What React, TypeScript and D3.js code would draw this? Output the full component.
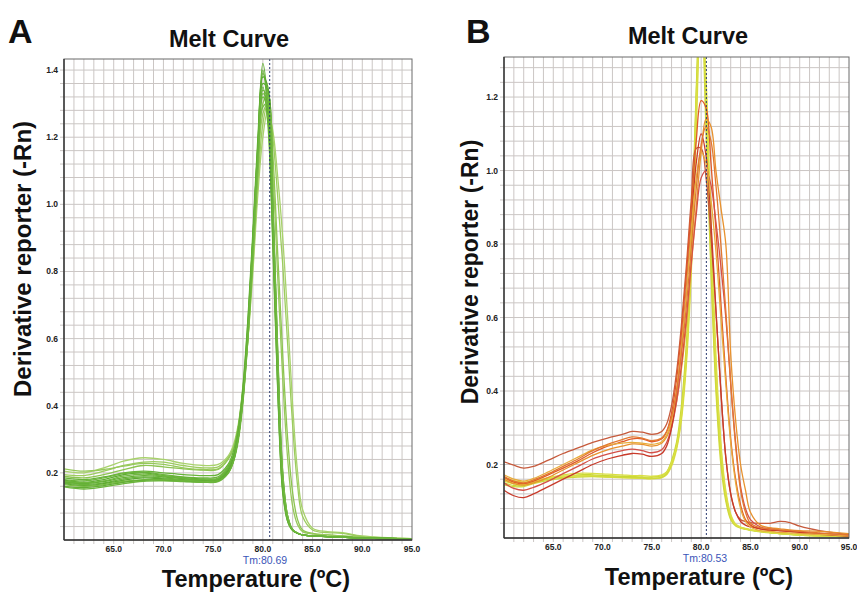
import React from "react";
import * as d3 from "d3";

// ---- panel A : green melt curves ----
const tempsA = [60, 62, 64, 66, 68, 70, 72, 74, 75.5, 76.5, 77, 77.5, 78, 78.5, 79, 79.5, 80, 80.5, 81, 81.5, 82, 82.5, 83, 83.5, 84, 85, 86.5, 88, 90, 95];

const curvesA = [
  [0.205, 0.2, 0.215, 0.235, 0.245, 0.24, 0.228, 0.222, 0.225, 0.25, 0.28, 0.34, 0.45, 0.6, 0.8, 1.03, 1.2, 1.28, 1.22, 1.08, 0.9, 0.66, 0.4, 0.2, 0.09, 0.035, 0.025, 0.022, 0.012, 0.004],
  [0.195, 0.192, 0.205, 0.222, 0.232, 0.232, 0.222, 0.215, 0.218, 0.245, 0.27, 0.33, 0.44, 0.6, 0.82, 1.06, 1.24, 1.3, 1.2, 1.02, 0.82, 0.58, 0.34, 0.16, 0.07, 0.03, 0.022, 0.02, 0.01, 0.004],
  [0.19, 0.185, 0.195, 0.21, 0.222, 0.218, 0.212, 0.208, 0.21, 0.24, 0.27, 0.33, 0.45, 0.63, 0.87, 1.12, 1.3, 1.33, 1.15, 0.85, 0.55, 0.3, 0.14, 0.06, 0.03, 0.02, 0.015, 0.012, 0.008, 0.003],
  [0.212, 0.205, 0.21, 0.22, 0.228, 0.225, 0.215, 0.21, 0.212, 0.24, 0.27, 0.33, 0.44, 0.62, 0.86, 1.1, 1.27, 1.3, 1.1, 0.78, 0.48, 0.24, 0.1, 0.045, 0.025, 0.018, 0.015, 0.012, 0.008, 0.003],
  [0.185, 0.18, 0.188, 0.2, 0.205, 0.2, 0.195, 0.192, 0.195, 0.225, 0.26, 0.33, 0.46, 0.66, 0.92, 1.2, 1.42, 1.3, 0.92, 0.46, 0.15, 0.06, 0.03, 0.02, 0.015, 0.012, 0.01, 0.008, 0.006, 0.003],
  [0.18, 0.176, 0.185, 0.198, 0.202, 0.195, 0.188, 0.185, 0.188, 0.22, 0.25, 0.32, 0.45, 0.65, 0.9, 1.18, 1.39, 1.32, 0.96, 0.5, 0.17, 0.065, 0.03, 0.02, 0.015, 0.012, 0.01, 0.008, 0.006, 0.003],
  [0.178, 0.172, 0.18, 0.195, 0.2, 0.192, 0.186, 0.182, 0.184, 0.215, 0.245, 0.31, 0.43, 0.62, 0.87, 1.15, 1.36, 1.34, 1.0, 0.54, 0.19, 0.07, 0.03, 0.02, 0.015, 0.012, 0.01, 0.008, 0.006, 0.003],
  [0.175, 0.17, 0.176, 0.19, 0.196, 0.19, 0.184, 0.18, 0.182, 0.212, 0.24, 0.3, 0.42, 0.6, 0.85, 1.12, 1.33, 1.3, 0.98, 0.52, 0.18, 0.065, 0.03, 0.02, 0.015, 0.012, 0.01, 0.008, 0.006, 0.003],
  [0.172, 0.168, 0.174, 0.186, 0.192, 0.188, 0.182, 0.178, 0.18, 0.21, 0.24, 0.31, 0.44, 0.64, 0.9, 1.17, 1.35, 1.24, 0.88, 0.44, 0.14, 0.055, 0.028, 0.02, 0.015, 0.012, 0.01, 0.008, 0.006, 0.003],
  [0.17, 0.165, 0.17, 0.182, 0.188, 0.185, 0.18, 0.176, 0.178, 0.205, 0.235, 0.3, 0.42, 0.61, 0.86, 1.13, 1.32, 1.28, 0.94, 0.49, 0.17, 0.06, 0.03, 0.02, 0.015, 0.012, 0.01, 0.008, 0.006, 0.003],
  [0.168, 0.162, 0.168, 0.178, 0.185, 0.182, 0.178, 0.175, 0.177, 0.205, 0.235, 0.3, 0.43, 0.63, 0.89, 1.16, 1.38, 1.35, 1.02, 0.56, 0.2, 0.07, 0.03, 0.02, 0.015, 0.012, 0.01, 0.008, 0.006, 0.003],
  [0.165, 0.16, 0.165, 0.175, 0.18, 0.18, 0.177, 0.174, 0.176, 0.2, 0.23, 0.29, 0.41, 0.6, 0.84, 1.1, 1.29, 1.3, 1.0, 0.55, 0.2, 0.07, 0.03, 0.02, 0.015, 0.012, 0.01, 0.008, 0.006, 0.003],
  [0.16, 0.156, 0.162, 0.172, 0.178, 0.178, 0.175, 0.172, 0.175, 0.2, 0.23, 0.3, 0.43, 0.63, 0.9, 1.18, 1.4, 1.27, 0.9, 0.45, 0.15, 0.055, 0.028, 0.02, 0.015, 0.012, 0.01, 0.008, 0.006, 0.003],
  [0.158, 0.152, 0.158, 0.168, 0.175, 0.176, 0.174, 0.172, 0.174, 0.198, 0.23, 0.3, 0.42, 0.62, 0.88, 1.15, 1.34, 1.31, 0.97, 0.5, 0.17, 0.06, 0.03, 0.02, 0.015, 0.012, 0.01, 0.008, 0.006, 0.003],
];

const colorsA = ["#a8d26c", "#9ccc5e", "#8cc450", "#96c85a", "#66b238", "#6eb63c", "#5eac32", "#72b940", "#64b036", "#6ab43a", "#5aa830", "#78bc44", "#62ae34", "#6cb53c"];

// ---- panel B : yellow / red melt curves ----
const tempsB = [60, 61, 62, 63, 64.5, 66, 67.5, 69, 70.5, 72, 73, 74, 75, 76, 76.5, 77, 77.5, 78, 78.5, 79, 79.5, 80, 80.5, 81, 81.5, 82, 82.5, 83, 83.5, 84, 84.5, 85, 86, 87, 88, 89, 90, 92, 95];

const yellowCurvesB = [
  [0.155, 0.148, 0.146, 0.152, 0.162, 0.168, 0.17, 0.17, 0.168, 0.166, 0.165, 0.164, 0.163, 0.166, 0.175, 0.2, 0.25, 0.34, 0.5, 0.77, 1.2, 1.5, 1.15, 0.75, 0.42, 0.22, 0.11, 0.055, 0.035, 0.028, 0.025, 0.022, 0.018, 0.015, 0.012, 0.01, 0.008, 0.006, 0.004],
  [0.15, 0.143, 0.142, 0.15, 0.16, 0.166, 0.172, 0.172, 0.17, 0.168, 0.167, 0.166, 0.166, 0.17, 0.18, 0.21, 0.26, 0.36, 0.53, 0.8, 1.22, 1.52, 1.2, 0.8, 0.46, 0.24, 0.12, 0.06, 0.036, 0.028, 0.025, 0.022, 0.018, 0.015, 0.012, 0.01, 0.008, 0.006, 0.004],
  [0.16, 0.152, 0.15, 0.155, 0.163, 0.168, 0.169, 0.168, 0.166, 0.164, 0.163, 0.162, 0.161, 0.164, 0.172, 0.195, 0.24, 0.32, 0.47, 0.72, 1.1, 1.45, 1.25, 0.85, 0.5, 0.26, 0.13, 0.065, 0.038, 0.03, 0.026, 0.023, 0.019, 0.016, 0.013, 0.011, 0.009, 0.007, 0.004],
  [0.145, 0.14, 0.14, 0.148, 0.157, 0.163, 0.166, 0.167, 0.166, 0.165, 0.164, 0.163, 0.162, 0.165, 0.174, 0.2, 0.245, 0.33, 0.49, 0.75, 1.15, 1.48, 1.1, 0.72, 0.4, 0.2, 0.1, 0.05, 0.033, 0.027, 0.024, 0.021, 0.017, 0.014, 0.012, 0.01, 0.008, 0.006, 0.004],
  [0.165, 0.156, 0.152, 0.156, 0.164, 0.172, 0.176, 0.176, 0.174, 0.172, 0.17, 0.17, 0.168, 0.172, 0.18, 0.205, 0.25, 0.34, 0.5, 0.78, 1.18, 1.47, 1.22, 0.82, 0.47, 0.25, 0.12, 0.06, 0.036, 0.028, 0.025, 0.022, 0.018, 0.015, 0.012, 0.01, 0.008, 0.006, 0.004],
];

const redCurvesB = [
  [0.207, 0.198, 0.19, 0.195, 0.212, 0.23, 0.245, 0.26, 0.272, 0.282, 0.29, 0.288, 0.282, 0.29, 0.31, 0.36, 0.45, 0.58, 0.74, 0.92, 1.06, 1.06, 0.98, 0.82, 0.62, 0.4, 0.22, 0.12, 0.07, 0.05, 0.045, 0.042, 0.04, 0.04, 0.045, 0.042, 0.032, 0.02, 0.01],
  [0.165, 0.152, 0.148, 0.155, 0.172, 0.19, 0.21, 0.232, 0.25, 0.262, 0.27, 0.27, 0.262, 0.27, 0.29, 0.34, 0.43, 0.56, 0.72, 0.9, 1.08, 1.19, 1.17, 1.02, 0.84, 0.64, 0.44, 0.27, 0.16, 0.09, 0.05, 0.035, 0.025, 0.022, 0.02, 0.018, 0.015, 0.012, 0.006],
  [0.16, 0.148, 0.144, 0.15, 0.165, 0.185, 0.205, 0.225, 0.24, 0.25, 0.256, 0.255, 0.25, 0.258, 0.275, 0.31, 0.37, 0.46, 0.58, 0.74, 0.9, 1.05, 1.14, 1.12, 1.0, 0.9, 0.8, 0.5, 0.32, 0.2, 0.13, 0.07, 0.035, 0.028, 0.025, 0.022, 0.02, 0.018, 0.012],
  [0.15, 0.135, 0.13, 0.138, 0.155, 0.175, 0.195, 0.215, 0.228, 0.238, 0.242, 0.238, 0.232, 0.24, 0.26, 0.3, 0.37, 0.47, 0.6, 0.75, 0.88, 0.98, 1.0, 0.96, 0.86, 0.74, 0.6, 0.42, 0.26, 0.14, 0.08, 0.05, 0.03, 0.025, 0.02, 0.018, 0.015, 0.012, 0.008],
  [0.13, 0.115, 0.11, 0.12, 0.14, 0.16, 0.18, 0.2, 0.215, 0.225, 0.23, 0.228, 0.222, 0.23, 0.25, 0.3, 0.39, 0.52, 0.68, 0.86, 1.02, 1.1, 1.04, 0.86, 0.62, 0.4, 0.22, 0.12, 0.07, 0.045, 0.035, 0.03, 0.025, 0.02, 0.02, 0.018, 0.015, 0.01, 0.005],
  [0.172, 0.16, 0.155, 0.162, 0.18, 0.2, 0.22, 0.24, 0.252, 0.258, 0.26, 0.258, 0.255, 0.262, 0.28, 0.32, 0.4, 0.52, 0.67, 0.84, 0.98, 1.05, 1.02, 0.92, 0.78, 0.6, 0.42, 0.26, 0.15, 0.08, 0.045, 0.03, 0.02, 0.018, 0.015, 0.014, 0.012, 0.01, 0.006],
  [0.168, 0.155, 0.15, 0.158, 0.175, 0.195, 0.215, 0.238, 0.255, 0.268, 0.275, 0.272, 0.265, 0.272, 0.29, 0.33, 0.4, 0.5, 0.63, 0.79, 0.95, 1.07, 1.12, 1.08, 0.96, 0.8, 0.62, 0.42, 0.25, 0.13, 0.07, 0.04, 0.028, 0.025, 0.022, 0.02, 0.018, 0.014, 0.008],
];

const yellowColorsB = ["#d6dc3e", "#c8d834", "#e0e04a", "#cfd93a", "#dadf44"];
const redColorsB = ["#c65a3c", "#e05a28", "#e8922e", "#d45048", "#c83a2a", "#e8ac3c", "#e27830"];

const xTickValues = [65, 70, 75, 80, 85, 90, 95];
const yTicksA = [0.2, 0.4, 0.6, 0.8, 1.0, 1.2, 1.4];
const yTicksB = [0.2, 0.4, 0.6, 0.8, 1.0, 1.2];

const FONT = "'Liberation Sans', Arial, Helvetica, sans-serif";

type Box = { left: number; top: number; right: number; bottom: number };

function Panel(props: {
  id: string;
  box: Box;
  yMax: number;
  temps: number[];
  curves: number[][];
  colors: string[];
  yTicks: number[];
  tm: number;
  letter: string;
  letterPos: [number, number];
  titlePos: [number, number];
  xTitlePos: [number, number];
  yTitlePos: [number, number];
  yTitleSize: number;
  tmLabelPos: [number, number];
}) {
  const { id, box, yMax, temps, curves, colors, yTicks, tm } = props;
  const x = d3.scaleLinear().domain([60, 95]).range([box.left, box.right]);
  const y = d3.scaleLinear().domain([0, yMax]).range([box.bottom, box.top]);

  const line = d3
    .line<number>()
    .x((_, i) => x(temps[i]))
    .y((d) => y(d))
    .curve(d3.curveCatmullRom.alpha(0.5));

  const vGrid = d3.range(61, 95, 1);
  const nH = Math.floor(yMax / 0.04 + 1e-6);
  const hGrid = d3.range(1, nH + 1).map((i) => i * 0.04);

  return (
    <g>
      <defs>
        <clipPath id={id}>
          <rect x={box.left} y={box.top} width={box.right - box.left} height={box.bottom - box.top} />
        </clipPath>
      </defs>
      <rect x={box.left} y={box.top} width={box.right - box.left} height={box.bottom - box.top} fill="#fff" />
      {vGrid.map((t) => (
        <line key={"v" + t} x1={x(t)} x2={x(t)} y1={box.top} y2={box.bottom + 4} stroke="#cbc6c4" strokeWidth={1} />
      ))}
      {hGrid.map((v) => (
        <line key={"h" + v} x1={box.left - 4} x2={box.right} y1={y(v)} y2={y(v)} stroke="#cbc6c4" strokeWidth={1} />
      ))}
      <g clipPath={`url(#${id})`}>
        {curves.map((c, i) => (
          <path key={i} d={line(c) || ""} fill="none" stroke={colors[i % colors.length]} strokeWidth={1.3} />
        ))}
      </g>
      <line x1={x(tm)} x2={x(tm)} y1={box.top} y2={box.bottom} stroke="#2c3a70" strokeWidth={1} strokeDasharray="2,2" />
      <rect x={box.left} y={box.top} width={box.right - box.left} height={box.bottom - box.top} fill="none" stroke="#6a6a6a" strokeWidth={1} />
      <line x1={box.left} x2={box.left} y1={box.top} y2={box.bottom} stroke="#333" strokeWidth={1.4} />
      <line x1={box.left} x2={box.right} y1={box.bottom} y2={box.bottom} stroke="#333" strokeWidth={1.4} />
      {yTicks.map((v) => (
        <text key={"yt" + v} x={box.left - 6} y={y(v) + 3} textAnchor="end" fontFamily={FONT} fontWeight="bold" fontSize={8.5} fill="#222">
          {v.toFixed(1)}
        </text>
      ))}
      {xTickValues.map((t) => (
        <text key={"xt" + t} x={x(t)} y={box.bottom + 12} textAnchor="middle" fontFamily={FONT} fontWeight="bold" fontSize={8.5} fill="#222">
          {t.toFixed(1)}
        </text>
      ))}
      <text x={props.tmLabelPos[0]} y={props.tmLabelPos[1]} textAnchor="middle" fontFamily={FONT} fontSize={10.5} fill="#3a55b8">
        {"Tm:" + tm.toFixed(2)}
      </text>
      <text x={props.letterPos[0]} y={props.letterPos[1]} fontFamily={FONT} fontWeight="bold" fontSize={34} fill="#111">
        {props.letter}
      </text>
      <text x={props.titlePos[0]} y={props.titlePos[1]} textAnchor="middle" fontFamily={FONT} fontWeight="bold" fontSize={23.5} fill="#111">
        Melt Curve
      </text>
      <text x={props.xTitlePos[0]} y={props.xTitlePos[1]} textAnchor="middle" fontFamily={FONT} fontWeight="bold" fontSize={23.5} fill="#111">
        Temperature (ºC)
      </text>
      <text
        transform={`translate(${props.yTitlePos[0]},${props.yTitlePos[1]}) rotate(-90)`}
        textAnchor="middle"
        fontFamily={FONT}
        fontWeight="bold"
        fontSize={props.yTitleSize}
        fill="#111"
      >
        Derivative reporter (-Rn)
      </text>
    </g>
  );
}

export default function App() {
  return (
    <svg width={857} height={592} style={{ position: "absolute", left: 0, top: 0, background: "#fff" }}>
      <rect width={857} height={592} fill="#fff" />
      <Panel
        id="clipA"
        box={{ left: 64, top: 59, right: 412, bottom: 540 }}
        yMax={1.433}
        temps={tempsA}
        curves={curvesA}
        colors={colorsA}
        yTicks={yTicksA}
        tm={80.69}
        letter="A"
        letterPos={[8, 43]}
        titlePos={[229, 47]}
        xTitlePos={[256, 587]}
        yTitlePos={[31, 259]}
        yTitleSize={24}
        tmLabelPos={[265, 563.5]}
      />
      <Panel
        id="clipB"
        box={{ left: 504, top: 57, right: 849, bottom: 538 }}
        yMax={1.309}
        temps={tempsB}
        curves={[...yellowCurvesB, ...redCurvesB]}
        colors={[...yellowColorsB, ...redColorsB]}
        yTicks={yTicksB}
        tm={80.53}
        letter="B"
        letterPos={[466, 43]}
        titlePos={[688, 44]}
        xTitlePos={[699, 585]}
        yTitlePos={[478, 272]}
        yTitleSize={23}
        tmLabelPos={[705, 561.5]}
      />
    </svg>
  );
}
